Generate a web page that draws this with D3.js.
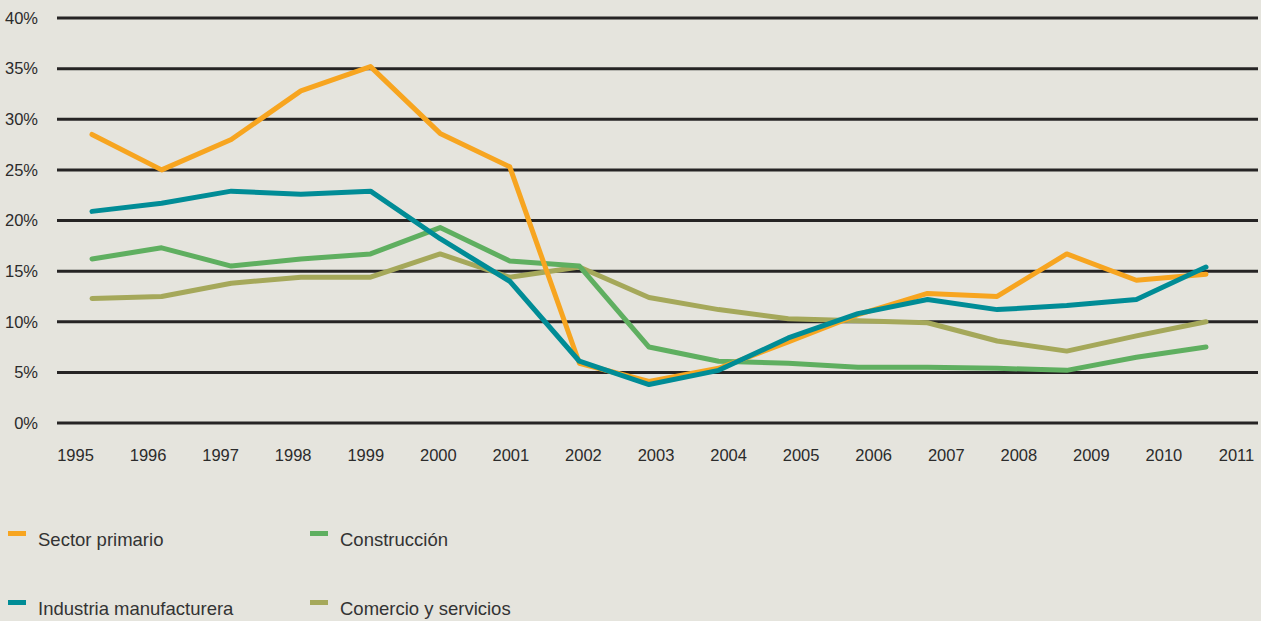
<!DOCTYPE html>
<html><head><meta charset="utf-8">
<script src="https://cdn.jsdelivr.net/npm/d3@7"></script>
<style>
html,body{margin:0;padding:0;background:#E5E4DD;}
svg{display:block;}
</style></head>
<body>
<svg id="chart" width="1261" height="621"></svg>
<script>
const years = ["1995","1996","1997","1998","1999","2000","2001","2002","2003","2004","2005","2006","2007","2008","2009","2010","2011"];
const yTicks = [0,5,10,15,20,25,30,35,40];
const seriesNames = ["Sector primario","Industria manufacturera","Construcción","Comercio y servicios"];
const sectorPrimario = [28.5,25.0,28.0,32.8,35.2,28.6,25.3,5.9,4.1,5.4,8.0,10.7,12.8,12.5,16.7,14.1,14.7];
const industriaManufacturera = [20.9,21.7,22.9,22.6,22.9,18.2,14.0,6.1,3.8,5.2,8.4,10.8,12.2,11.2,11.6,12.2,15.4];
const construccion = [16.2,17.3,15.5,16.2,16.7,19.3,16.0,15.5,7.5,6.1,5.9,5.5,5.5,5.4,5.2,6.5,7.5];
const comercioServicios = [12.3,12.5,13.8,14.4,14.4,16.7,14.4,15.4,12.4,11.2,10.3,10.1,9.9,8.1,7.1,8.6,10.0];
const colors = ["#F7A520","#008C96","#5FAF60","#A5A85A"];

const svg = d3.select("#chart");
const xData = d3.scalePoint().domain(years).range([92,1206]);
const xAxisScale = d3.scalePoint().domain(years).range([75,1236]);
const y = d3.scaleLinear().domain([0,40]).range([423,18]);

svg.append("rect").attr("width",1261).attr("height",621).attr("fill","#E5E4DD");

// gridlines
const grid = svg.append("g");
grid.selectAll("line").data(yTicks).join("line")
  .attr("x1",57).attr("x2",1258)
  .attr("y1",d=>y(d)).attr("y2",d=>y(d))
  .attr("stroke","#262424").attr("stroke-width",3);

const tickFont = "'Liberation Sans Narrow','Arial Narrow',sans-serif";

// y labels
const yAxis = d3.axisLeft(y).tickValues(yTicks).tickFormat(d=>d+"%").tickSize(0).tickPadding(0);
const gy = svg.append("g").attr("transform","translate(38,0)").call(yAxis);
gy.select(".domain").remove();
gy.selectAll("text").attr("font-family",tickFont)
  .attr("font-size",16.5).attr("fill","#2b2b2b");

// x labels
const xAxis = d3.axisBottom(xAxisScale).tickSize(0).tickPadding(0);
const gx = svg.append("g").attr("transform","translate(0,449)").call(xAxis);
gx.select(".domain").remove();
gx.selectAll("text").attr("font-family",tickFont)
  .attr("font-size",16.5).attr("fill","#2b2b2b").attr("dy","0.7em");

const allSeries = [sectorPrimario, industriaManufacturera, construccion, comercioServicios];
const drawOrder = [3,2,0,1];
const line = d3.line().x((d,i)=>xData(years[i])).y(d=>y(d));
drawOrder.forEach(k=>{
  svg.append("path").datum(allSeries[k]).attr("d",line)
    .attr("fill","none").attr("stroke",colors[k]).attr("stroke-width",5)
    .attr("stroke-linejoin","round").attr("stroke-linecap","round");
});

// legend
const legPos = [[8,533],[8,602],[310,533],[310,602]];
seriesNames.forEach((n,k)=>{
  const g = svg.append("g").attr("transform",`translate(${legPos[k][0]},${legPos[k][1]})`);
  g.append("rect").attr("x",0).attr("y",-2).attr("width",18).attr("height",5).attr("fill",colors[k]);
  g.append("text").attr("x",30).attr("y",13).text(n)
    .attr("font-family","'Liberation Sans',Arial,sans-serif").attr("font-size",18.5).attr("fill","#333");
});
</script>
</body></html>
